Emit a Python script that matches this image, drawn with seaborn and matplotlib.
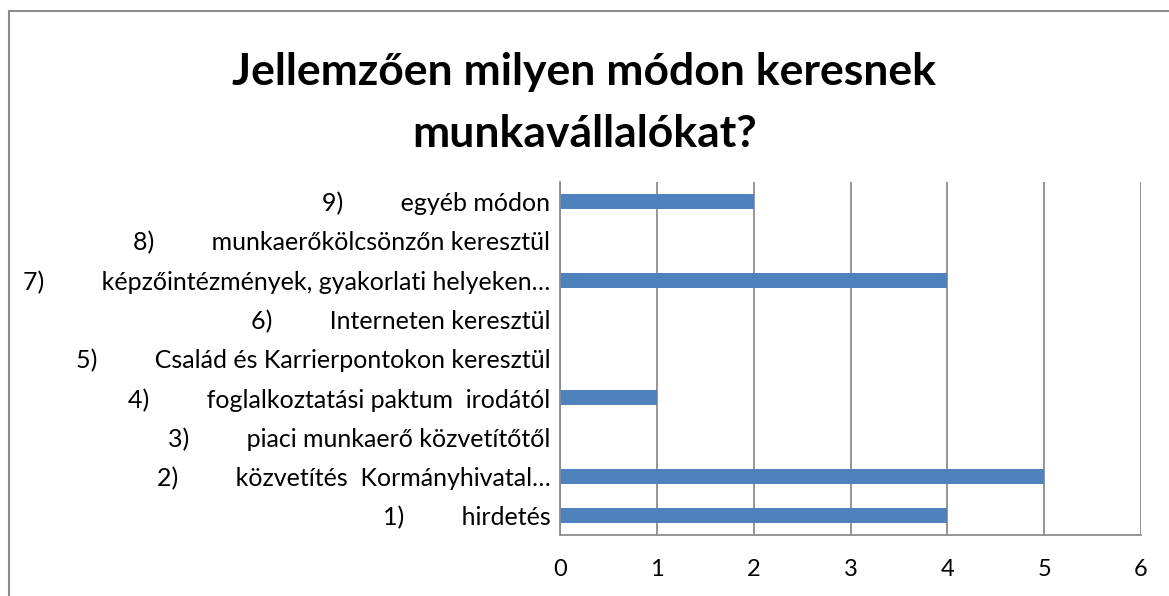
import pandas as pd
import seaborn as sns
import matplotlib.pyplot as plt
from matplotlib.patches import Rectangle

# Data (top to bottom as shown in the chart)
labels = [
    "9)         egyéb módon",
    "8)         munkaerőkölcsönzőn keresztül",
    "7)         képzőintézmények, gyakorlati helyeken…",
    "6)         Interneten keresztül",
    "5)         Család és Karrierpontokon keresztül",
    "4)         foglalkoztatási paktum  irodától",
    "3)         piaci munkaerő közvetítőtől",
    "2)         közvetítés  Kormányhivatal…",
    "1)         hirdetés",
]
values = [2, 0, 4, 0, 0, 1, 0, 5, 4]
x_ticks = [0, 1, 2, 3, 4, 5, 6]

df = pd.DataFrame({"label": labels, "value": values})

sns.set_style("white")
plt.rcParams["font.family"] = ["Lato", "DejaVu Sans"]

W, H = 1169, 596
fig = plt.figure(figsize=(W / 100, H / 100), dpi=100)
ax = fig.add_axes([560 / W, 1 - 535 / H, 581 / W, (535 - 182) / H])

sns.barplot(data=df, x="value", y="label", order=labels, color="#4F81BD",
            saturation=1, width=0.38, edgecolor="none", linewidth=0, ax=ax)

ax.set_xlim(0, 6)
ax.set_ylim(len(labels) - 0.5, -0.5)
ax.set_xticks(x_ticks)
ax.set_xlabel("")
ax.set_ylabel("")
ax.grid(axis="x", color="#8C8C8C", linewidth=1.3)
ax.set_axisbelow(True)
for side in ["top", "right"]:
    ax.spines[side].set_visible(False)
for side in ["left", "bottom"]:
    ax.spines[side].set_color("#8C8C8C")
    ax.spines[side].set_linewidth(1.3)

# category boundary ticks on the y axis
ax.set_yticks([i - 0.5 for i in range(len(labels) + 1)], minor=True)
ax.tick_params(axis="y", which="major", length=0, labelsize=18, pad=7,
               labelcolor="black")
ax.tick_params(axis="y", which="minor", length=6, color="#8C8C8C", width=1.3)
ax.tick_params(axis="x", length=8, color="#8C8C8C", width=1.3, labelsize=17,
               pad=9, labelcolor="black")

fig.text(0.5, 1 - 103 / H, "Jellemzően milyen módon keresnek\nmunkavállalókat?",
         ha="center", va="center", fontsize=32, fontweight="bold",
         linespacing=1.68, color="black")

# outer chart border (right and bottom edges fall outside the picture)
fig.patches.append(Rectangle((9 / W, -0.05), 1.1, 1 - 11 / H + 0.05,
                             transform=fig.transFigure, fill=False,
                             edgecolor="#8C8C8C", linewidth=1.5))

fig.savefig("out.png", dpi=100)
